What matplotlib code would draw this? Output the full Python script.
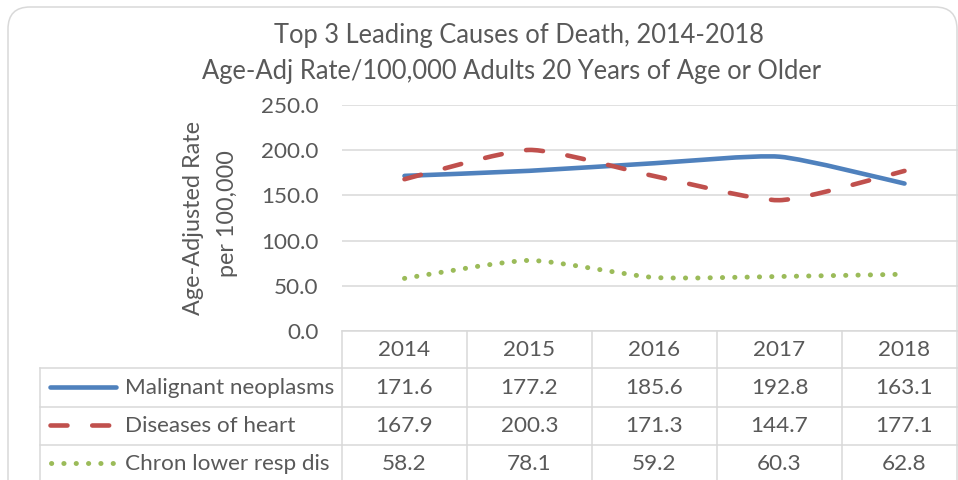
import numpy as np
import matplotlib
matplotlib.use("Agg")
import matplotlib.pyplot as plt
import matplotlib.path as mpath
import matplotlib.patches as mpatches
import matplotlib.lines as mlines
from matplotlib.transforms import IdentityTransform, blended_transform_factory

# data
years = ["2014", "2015", "2016", "2017", "2018"]
series_names = ["Malignant neoplasms", "Diseases of heart", "Chron lower resp dis"]
malignant = [171.6, 177.2, 185.6, 192.8, 163.1]
heart = [167.9, 200.3, 171.3, 144.7, 177.1]
chron_resp = [58.2, 78.1, 59.2, 60.3, 62.8]
yticks = [0, 50, 100, 150, 200, 250]

title1 = "Top 3 Leading Causes of Death, 2014-2018"
title2 = "Age-Adj Rate/100,000 Adults 20 Years of Age or Older"

W, H = 958, 480
TXT = "#595959"
GRID = "#D9D9D9"
FONT = "Lato"
FS = 16.2

plt.rcParams['font.family'] = [FONT, 'DejaVu Sans']

fig = plt.figure(figsize=(W / 100, H / 100), dpi=100)
pix = IdentityTransform()


def py(y):
    # image row (top=0) -> display y
    return H - y


# outer rounded border
border = mpatches.FancyBboxPatch((8, py(540)), 949, 533,
                                 boxstyle=mpatches.BoxStyle("Round", pad=0, rounding_size=22),
                                 ec=GRID, fc="none", lw=1.1, transform=pix, zorder=-5)
fig.patches.append(border)

# plot area
L, R, T, B = 342, 967, 105, 331
ax = fig.add_axes([L / W, 1 - B / H, (R - L) / W, (B - T) / H])
ax.set_xlim(-0.5, len(years) - 0.5)
ax.set_ylim(0, 250)
ax.set_facecolor("none")
for s in ax.spines.values():
    s.set_visible(False)
ax.set_xticks([])
ax.set_yticks(yticks)
ax.set_yticklabels([f"{v:.1f}" for v in yticks])
ax.tick_params(axis="y", length=0, pad=17, labelsize=FS, labelcolor=TXT)
ax.grid(axis="y", color=GRID, lw=1.1)
ax.set_axisbelow(True)


def smooth_path(xs, ys, k=0.1):
    # excel-like smoothed line, bezier through the data points
    pts = np.column_stack([xs, ys]).astype(float)
    n = len(pts)
    verts = [pts[0]]
    codes = [mpath.Path.MOVETO]
    for i in range(n - 1):
        p0 = pts[max(i - 1, 0)]
        p1 = pts[i]
        p2 = pts[i + 1]
        p3 = pts[min(i + 2, n - 1)]
        verts += [p1 + (p2 - p0) * k, p2 - (p3 - p1) * k, p2]
        codes += [mpath.Path.CURVE4] * 3
    return mpath.Path(verts, codes)


lw = 3.3
styles = [
    dict(color="#4F81BD", ls="-", lw=lw),
    dict(color="#C0504D", ls=(0, (3.7, 5.4)), lw=lw),
    dict(color="#9BBB59", ls=(0, (0.05, 2.45)), lw=3.55),
]
xs = np.arange(len(years))
for vals, st in zip([malignant, heart, chron_resp], styles):
    p = mpatches.PathPatch(smooth_path(xs, vals), fc="none", ec=st["color"],
                           lw=st["lw"], ls=st["ls"], capstyle="round", joinstyle="round")
    ax.add_patch(p)

# titles
fig.text(519 / W, 1 - 36 / H, title1, ha="center", va="center", fontsize=18.4, color=TXT)
fig.text(512 / W, 1 - 71 / H, title2, ha="center", va="center", fontsize=18.4, color=TXT)

# y label
fig.text(193 / W, 1 - 218 / H, "Age-Adjusted Rate", rotation=90, ha="center", va="center",
         fontsize=16.8, color=TXT)
fig.text(228 / W, 1 - 214 / H, "per 100,000", rotation=90, ha="center", va="center",
         fontsize=16.8, color=TXT)

# data table
tr = blended_transform_factory(ax.transData, pix)
row_lines = [368, 407, 445]
row_centers = [388, 426, 464]
bottom = 520

fig.add_artist(mlines.Line2D([L, W + 20], [py(B), py(B)], color=GRID, lw=1.1, transform=pix))
for yl in row_lines:
    fig.add_artist(mlines.Line2D([40, W + 20], [py(yl), py(yl)], color=GRID, lw=1.1, transform=pix))
fig.add_artist(mlines.Line2D([40, 40], [py(368), py(bottom)], color=GRID, lw=1.1, transform=pix))
for k in range(len(years) + 1):
    fig.add_artist(mlines.Line2D([k - 0.5, k - 0.5], [py(B), py(bottom)], color=GRID, lw=1.1,
                                 transform=tr))

for k, yr in enumerate(years):
    fig.text(k, py(350), yr, transform=tr, ha="center", va="center", fontsize=FS, color=TXT)

for r, (name, vals, st) in enumerate(zip(series_names, [malignant, heart, chron_resp], styles)):
    yc = py(row_centers[r])
    for k, v in enumerate(vals):
        fig.text(k, yc, f"{v:.1f}", transform=tr, ha="center", va="center", fontsize=FS, color=TXT)
    fig.text(125, yc, name, transform=pix, ha="left", va="center", fontsize=FS, color=TXT)
    x0, x1 = (50.25, 115.75) if r == 0 else ((50.25, 109.75) if r == 1 else (51, 113.6))
    ln = mlines.Line2D([x0, x1], [yc + 1, yc + 1], color=st["color"], lw=st["lw"], ls=st["ls"],
                       transform=pix, solid_capstyle="round", dash_capstyle="round")
    fig.add_artist(ln)

fig.savefig("out.png", dpi=100)
